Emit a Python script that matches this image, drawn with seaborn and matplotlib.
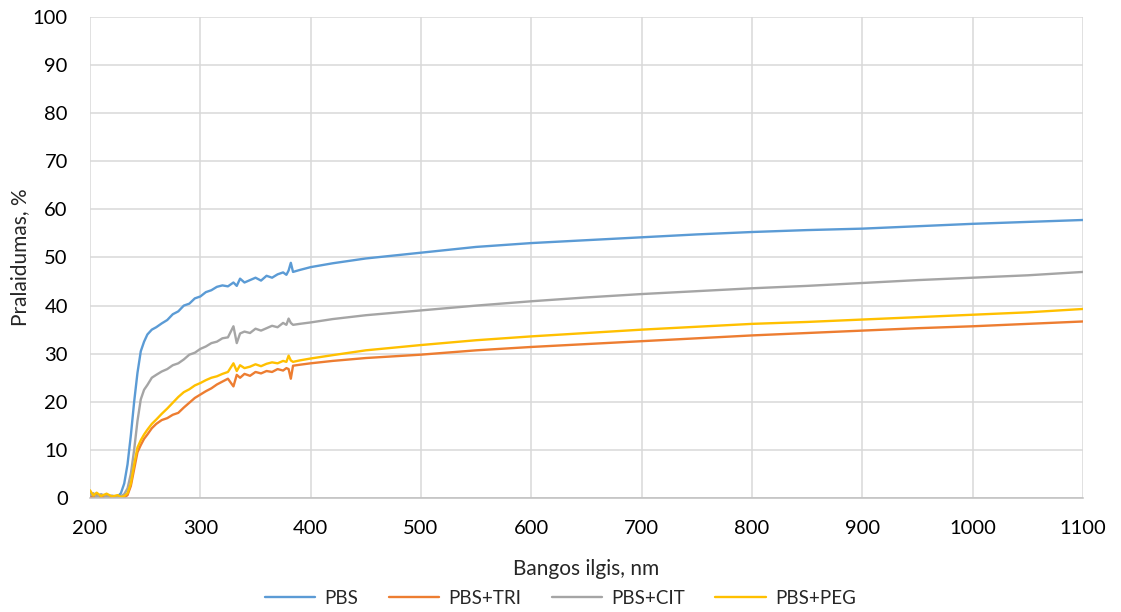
import matplotlib.pyplot as plt
import pandas as pd
import seaborn as sns

# wavelengths, nm (dense in the noisy UV part, sparse afterwards)
wavelength = [200, 203, 206, 210, 215, 220, 225, 228, 231, 234, 237, 240, 243, 246, 249,
              252, 256, 260, 265, 270, 275, 280, 285, 290, 295, 300, 305, 310, 315, 320,
              325, 330, 333, 336, 340, 345, 350, 355, 360, 365, 370, 375, 378, 380, 382,
              384, 390, 400, 420, 450, 500, 550, 600, 650, 700, 750, 800, 850, 900, 950,
              1000, 1050, 1100]

pbs = [1.2, 0.3, 0.9, 0.2, 0.6, 0.1, 0.3, 1.0, 3, 7, 13, 20, 26, 30.5, 32.5,
       34, 35, 35.5, 36.3, 37, 38.2, 38.8, 40, 40.4, 41.5, 41.9, 42.8, 43.2, 43.9, 44.2,
       44.0, 44.8, 44.1, 45.6, 44.8, 45.3, 45.8, 45.2, 46.2, 45.8, 46.5, 46.9, 46.4, 47.3, 48.9,
       47.0, 47.4, 48, 48.8, 49.8, 51, 52.2, 53, 53.6, 54.2, 54.8, 55.3, 55.7, 56, 56.5,
       57, 57.4, 57.8]

pbs_tri = [0.3, 0.0, 0.5, 0.1, 0.4, 0.0, 0.2, 0.0, 0.1, 0.6, 2.5, 6, 9.5, 11, 12.3,
           13.2, 14.5, 15.4, 16.2, 16.6, 17.3, 17.7, 18.8, 19.8, 20.8, 21.5, 22.2, 22.8, 23.6, 24.2,
           24.8, 23.2, 25.6, 25.0, 25.8, 25.4, 26.2, 25.9, 26.4, 26.2, 26.8, 26.5, 27, 26.8, 24.8,
           27.5, 27.7, 28, 28.5, 29.1, 29.8, 30.7, 31.4, 32, 32.6, 33.2, 33.8, 34.3, 34.8, 35.3,
           35.7, 36.2, 36.7]

pbs_cit = [0.5, 1.0, 0.2, 0.8, 0.3, 0.5, 0.2, 0.4, 0.8, 2, 5, 10, 16, 20.5, 22.5,
           23.5, 25, 25.6, 26.3, 26.8, 27.6, 28, 28.8, 29.8, 30.2, 31, 31.5, 32.2, 32.5, 33.2,
           33.4, 35.7, 32.2, 34.2, 34.6, 34.3, 35.2, 34.8, 35.3, 35.8, 35.5, 36.4, 36, 37.3, 36.4,
           36, 36.2, 36.5, 37.2, 38, 39, 40, 40.9, 41.7, 42.4, 43, 43.6, 44.1, 44.7, 45.3,
           45.8, 46.3, 47]

pbs_peg = [1.6, 0.5, 1.1, 0.4, 0.9, 0.3, 0.6, 0.2, 0.4, 1.0, 3, 7, 10.5, 12, 13.2,
           14.2, 15.4, 16.3, 17.5, 18.6, 19.8, 21, 22, 22.6, 23.4, 23.9, 24.5, 25, 25.3, 25.8,
           26.2, 28, 26.4, 27.6, 27, 27.3, 27.8, 27.4, 27.9, 28.2, 28, 28.5, 28.3, 29.6, 28.6,
           28.3, 28.6, 29, 29.7, 30.7, 31.8, 32.8, 33.6, 34.3, 35, 35.6, 36.2, 36.6, 37.1, 37.6,
           38.1, 38.6, 39.3]

series = {"PBS": pbs, "PBS+TRI": pbs_tri, "PBS+CIT": pbs_cit, "PBS+PEG": pbs_peg}
colors = ["#5B9BD5", "#ED7D31", "#A5A5A5", "#FFC000"]

df = pd.DataFrame([(w, v, name) for name, vals in series.items()
                   for w, v in zip(wavelength, vals)],
                  columns=["wl", "val", "name"])

sns.set_theme(style="whitegrid")
plt.rcParams['font.family'] = ['Lato', 'DejaVu Sans']

fig = plt.figure(figsize=(11.21, 6.12), dpi=100)
ax = fig.add_axes([0.0803, 0.1863, 0.8858, 0.7859])

sns.lineplot(data=df, x="wl", y="val", hue="name", palette=colors,
             linewidth=1.7, ax=ax, legend=True)

ax.set_xlim(200, 1100)
ax.set_ylim(0, 100)
ax.set_xticks(range(200, 1101, 100))
ax.set_yticks(range(0, 101, 10))
ax.grid(True, color="#D9D9D9", linewidth=1.1)
for side in ["top", "right", "left"]:
    ax.spines[side].set_visible(False)
ax.spines["bottom"].set_color("#BFBFBF")
ax.spines["bottom"].set_linewidth(1.1)
ax.tick_params(axis="both", length=0, labelsize=14.5, colors="#000000", pad=16)

ax.set_xlabel("Bangos ilgis, nm", fontsize=15, labelpad=16)
ax.set_ylabel("Pralaidumas, %", fontsize=15, labelpad=2)

ax.legend(loc="center", bbox_to_anchor=(0.5, 0.022), bbox_transform=fig.transFigure,
          ncol=4, frameon=False, fontsize=13.5, handlelength=2.7, columnspacing=1.6,
          handletextpad=0.5)

fig.savefig("out.png", dpi=100)
